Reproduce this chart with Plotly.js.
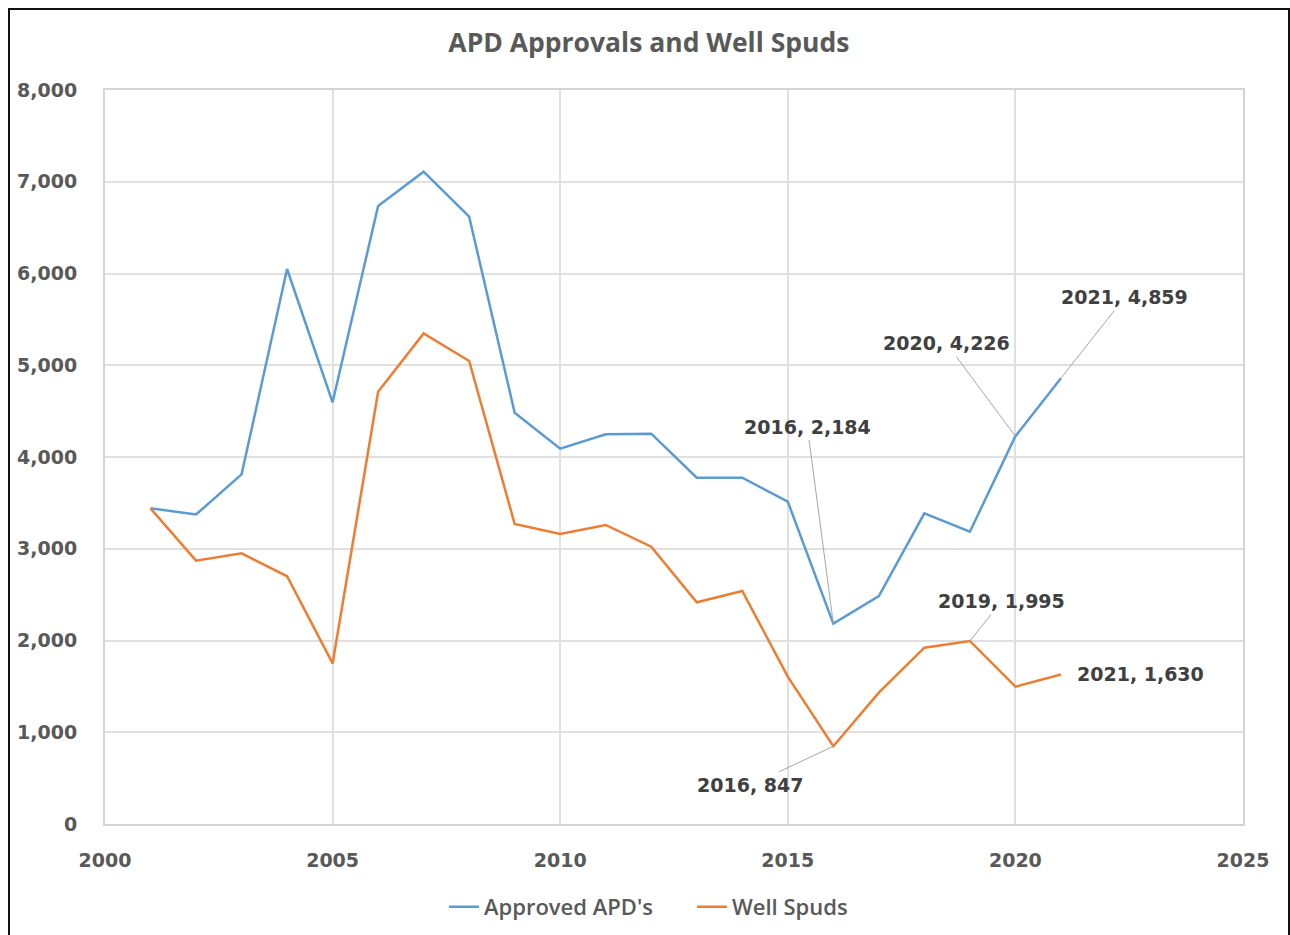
<!DOCTYPE html>
<html>
<head>
<meta charset="utf-8">
<script src="https://cdn.plot.ly/plotly-3.0.1.min.js"></script>
<style>
  html, body { margin: 0; padding: 0; background: #fff; }
  #chart { position: absolute; left: 0; top: 0; width: 1290px; height: 935px; }
  #frame { position: absolute; left: 8px; top: 8px; width: 1278px; height: 940px;
           border: 2px solid #111; pointer-events: none; }
</style>
</head>
<body>
<div id="chart"></div>
<div id="frame"></div>
<script>
const years = [2001, 2002, 2003, 2004, 2005, 2006, 2007, 2008, 2009, 2010, 2011,
               2012, 2013, 2014, 2015, 2016, 2017, 2018, 2019, 2020, 2021];
const approvedAPDs = [3441, 3373, 3811, 6049, 4596, 6736, 7110, 6619, 4483, 4091, 4247,
                      4254, 3775, 3775, 3513, 2184, 2485, 3386, 3186, 4226, 4859];
const wellSpuds = [3440, 2870, 2950, 2700, 1750, 4711, 5347, 5046, 3270, 3161, 3259,
                   3023, 2416, 2540, 1606, 847, 1431, 1922, 1995, 1497, 1630];
const seriesNames = ["Approved APD's", "Well Spuds"];
const chartTitle = "APD Approvals and Well Spuds";

// labelled points: [series index, year]
const labelled = [[0, 2016], [0, 2020], [0, 2021], [1, 2016], [1, 2019], [1, 2021]];
const labelOffsets = {
  "0-2016": {ax: -26, ay: -197},
  "0-2020": {ax: -69, ay: -93},
  "0-2021": {ax: 64, ay: -81},
  "1-2016": {ax: -83, ay: 39},
  "1-2019": {ax: 32, ay: -40},
  "1-2021": null
};

const seriesData = [approvedAPDs, wellSpuds];
const colors = ['#5B9BD5', '#ED7D31'];

const traces = seriesData.map((vals, i) => ({
  x: years, y: vals, name: seriesNames[i], type: 'scatter', mode: 'lines',
  line: {color: colors[i], width: 2.5}
}));

const fmt = v => v.toLocaleString('en-US');
const annFont = {family: 'DejaVu Sans', size: 19, color: '#404040', weight: 'bold'};
const annotations = labelled.map(([s, yr]) => {
  const idx = years.indexOf(yr);
  const val = seriesData[s][idx];
  const off = labelOffsets[s + '-' + yr];
  const base = {x: yr, y: val, xref: 'x', yref: 'y', text: yr + ', ' + fmt(val), font: annFont};
  if (!off) {
    return Object.assign(base, {showarrow: false, xanchor: 'left', yanchor: 'middle', xshift: 14});
  }
  return Object.assign(base, {showarrow: true, ax: off.ax, ay: off.ay, arrowhead: 0,
    arrowcolor: '#a6a6a6', arrowwidth: 1, standoff: 0, borderpad: 2});
});

const gridColor = '#e0e0e0';
const edgeColor = '#d4d4d4';
const tickFont = {family: 'DejaVu Sans', size: 19, color: '#595959', weight: 'bold'};

const layout = {
  width: 1290, height: 935,
  margin: {l: 105, r: 47, t: 90, b: 111},
  paper_bgcolor: '#fff', plot_bgcolor: '#fff',
  title: {text: chartTitle, x: 0.503, xref: 'container', y: 0.954, yref: 'container',
          xanchor: 'center', yanchor: 'middle',
          font: {family: 'Open Sans', size: 26.5, color: '#595959', weight: 'bold'}},
  xaxis: {range: [2000, 2025], dtick: 5, tick0: 2000, showgrid: true, gridcolor: gridColor,
          gridwidth: 2, zeroline: false, showline: true, mirror: true, linecolor: edgeColor,
          linewidth: 2, ticks: '', tickfont: tickFont, ticklabelstandoff: 18},
  yaxis: {range: [0, 8000], dtick: 1000, tickformat: ',d', showgrid: true, gridcolor: gridColor,
          gridwidth: 2, zeroline: false, showline: true, mirror: true, linecolor: edgeColor,
          linewidth: 2, ticks: '', tickfont: tickFont, ticklabelstandoff: 22},
  legend: {orientation: 'h', xref: 'container', yref: 'container', x: 444 / 1290, y: 0.03,
           xanchor: 'left', yanchor: 'middle',
           font: {family: 'Open Sans', size: 22, color: '#595959', weight: 600},
           itemwidth: 30, entrywidth: 203, entrywidthmode: 'pixels'},
  annotations: annotations,
  showlegend: true
};

Plotly.newPlot('chart', traces, layout, {displayModeBar: false, staticPlot: true});
</script>
</body>
</html>
